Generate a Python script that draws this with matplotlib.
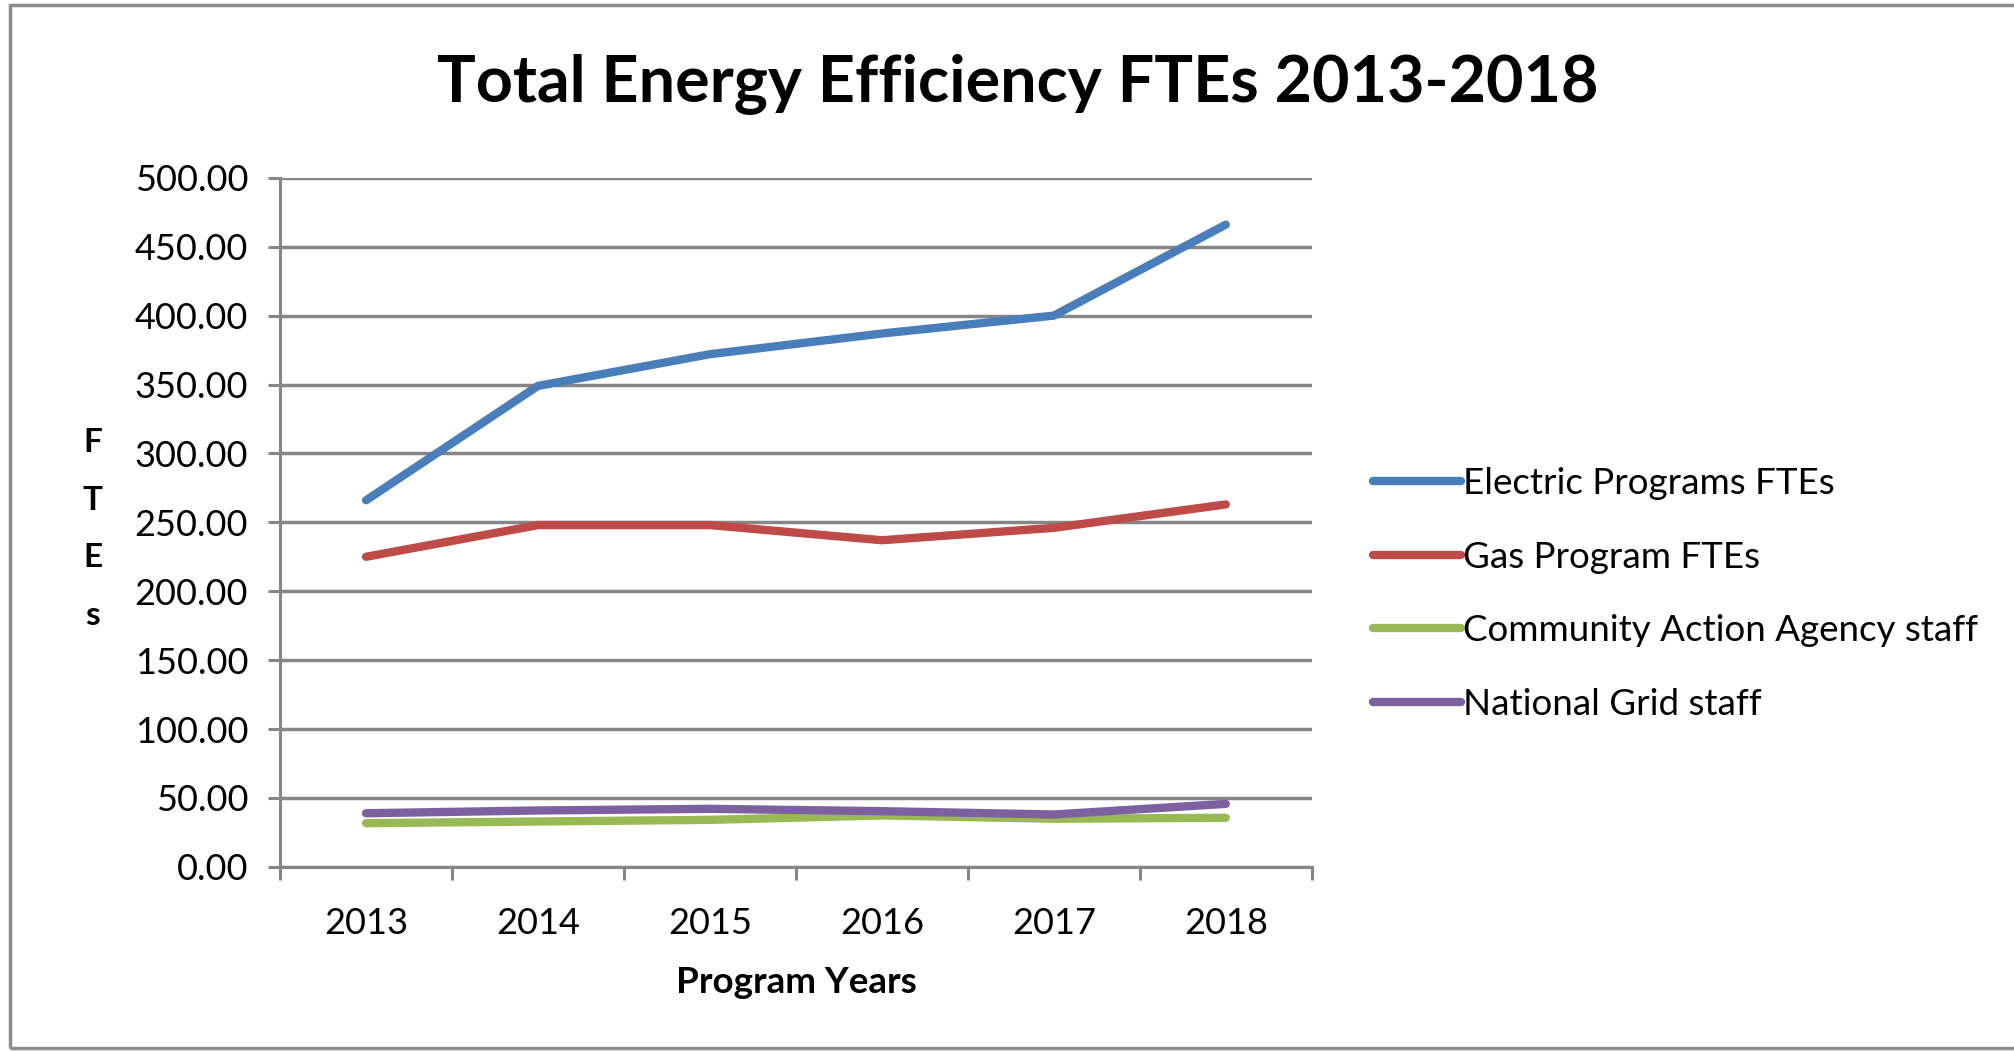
import matplotlib.pyplot as plt
from matplotlib.patches import Rectangle

years = ['2013', '2014', '2015', '2016', '2017', '2018']
electric = [266, 349, 372, 387, 400, 466]
gas = [225, 248, 248, 237, 246, 263]
community = [31.7, 32.9, 34.1, 37.3, 34.9, 35.6]
national_grid = [38.9, 40.9, 42.1, 40.4, 38.0, 45.7]

series_names = ['Electric Programs FTEs', 'Gas Program FTEs',
                'Community Action Agency staff', 'National Grid staff']
series_colors = ['#4A7EBB', '#BE4B48', '#98B954', '#7D60A0']

plt.rcParams['font.family'] = ['Lato', 'DejaVu Sans']
grey = '#868686'

fig = plt.figure(figsize=(20.15, 10.52), dpi=100)
ax = fig.add_axes([0.139, 0.176, 0.512, 0.655])

# outer chart border
fig.patches.append(Rectangle((0.005, 0.004), 1.2, 0.991, transform=fig.transFigure,
                             fill=False, edgecolor='#8c8c8c', linewidth=2.5))

x = list(range(len(years)))
for vals, name, col in zip([electric, gas, community, national_grid], series_names, series_colors):
    ax.plot(x, vals, color=col, linewidth=6, solid_capstyle='round',
            solid_joinstyle='round', label=name)

ax.set_ylim(0, 500)
ax.set_xlim(-0.5, 5.5)
ax.set_yticks(range(0, 501, 50))
ax.set_yticklabels(['%.2f' % v for v in range(0, 501, 50)])
ax.set_xticks([i - 0.5 for i in range(7)])
ax.set_xticklabels([])
ax.set_xticks(x, minor=True)
ax.set_xticklabels(years, minor=True)
ax.tick_params(axis='x', which='minor', length=0, pad=29, labelsize=26)
ax.tick_params(axis='x', which='major', length=9, width=2.2, color=grey)
ax.tick_params(axis='y', length=9, width=2.2, color=grey, labelsize=26, pad=14)

ax.grid(axis='y', color=grey, linewidth=2.5)
ax.set_axisbelow(True)
for s in ['top', 'right']:
    ax.spines[s].set_visible(False)
for s in ['left', 'bottom']:
    ax.spines[s].set_color(grey)
    ax.spines[s].set_linewidth(2.2)

ax.set_xlabel('Program Years', fontsize=26.5, fontweight='bold', labelpad=18.5)
fig.text(0.046, 0.497, 'F\nT\nE\ns', fontsize=24, fontweight='bold',
         ha='center', va='center', linespacing=2.19)

fig.suptitle('Total Energy Efficiency FTEs 2013-2018', x=0.505, y=0.92, va='center',
             fontsize=46.5, fontweight='bold')

ax.legend(loc='center left', bbox_to_anchor=(1.059, 0.396), frameon=False,
          fontsize=26.5, handlelength=2.4, handletextpad=0.05, labelspacing=1.1,
          borderpad=0, borderaxespad=0)

fig.savefig('out.png', dpi=100)
